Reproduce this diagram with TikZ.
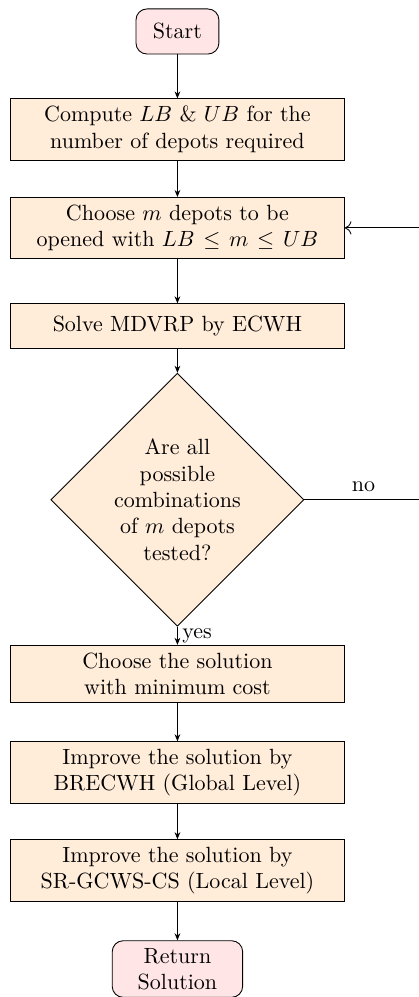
\documentclass[tikz,border=0pt]{standalone}
\usepackage{amsmath,amssymb}
\usepackage{tikz}
\usetikzlibrary{arrows.meta,shapes.geometric}

\begin{document}
\begin{tikzpicture}[
  term/.style={draw,rounded corners=5pt,fill=red!10,minimum width=37.7pt,minimum height=20.5pt,align=center},
  proc/.style={draw,fill=orange!15,text width=5.1cm,minimum height=20.5pt,align=center},
  decide/.style={draw,diamond,aspect=1,fill=orange!15,text width=2.1cm,inner sep=0pt,minimum width=114pt,minimum height=114pt,align=center},
  flow/.style={-{Stealth[length=3.2pt,width=2.6pt]}},
  back/.style={-{To[length=3pt,width=6pt]}}]
\useasboundingbox (0,0) rectangle (6.69,-15.93);
\node[term] (start) at (2.835,-0.503) {Start};
\node[proc] (bounds) at (2.835,-2.068) {Compute $LB$ \& $UB$ for the\\number of depots required};
\node[proc] (choose) at (2.835,-3.641) {Choose $m$ depots to be\\opened with $LB \leq m \leq UB$};
\node[proc] (solve) at (2.835,-5.214) {Solve MDVRP by ECWH};
\node[decide] (tested) at (2.835,-7.985) {Are all possible combinations of $m$ depots tested?};
\node[proc] (best) at (2.835,-10.764) {Choose the solution\\with minimum cost};
\node[proc] (global) at (2.835,-12.345) {Improve the solution by\\BRECWH (Global Level)};
\node[proc] (local) at (2.835,-13.910) {Improve the solution by\\SR-GCWS-CS (Local Level)};
\node[term,text width=1.85cm] (stop) at (2.835,-15.483) {Return\\Solution};
% the return line runs just past the right edge, as in the original
\coordinate (loop) at (6.75,0);
\draw[flow] (start) -- (bounds);
\draw[flow] (bounds) -- (choose);
\draw[flow] (choose) -- (solve);
\draw[flow] (solve) -- (tested);
\draw[flow] (tested) -- node[right,inner sep=2pt] {yes} (best);
\draw[flow] (best) -- (global);
\draw[flow] (global) -- (local);
\draw[flow] (local) -- (stop);
\draw[back] (tested.east) -- node[above] {no} (tested.east -| loop) |- (choose.east);
\end{tikzpicture}
\end{document}
